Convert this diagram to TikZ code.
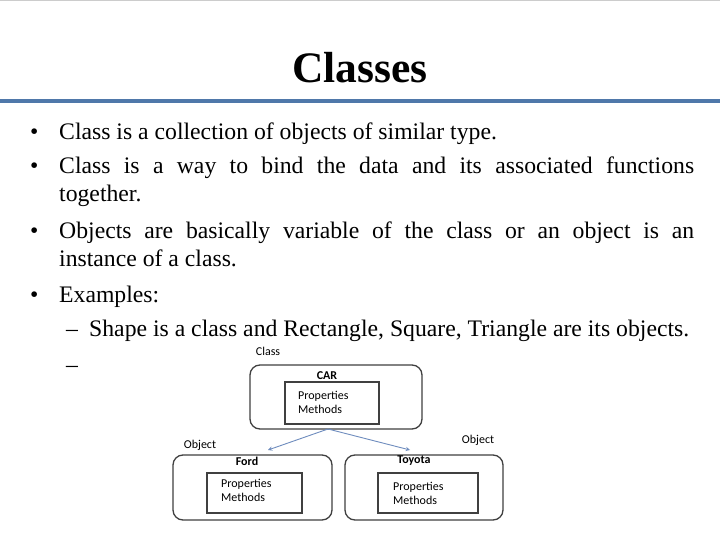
\documentclass[tikz,border=0pt]{standalone}
\usepackage{fontspec}
\setmainfont{Liberation Serif}
\newfontfamily\diag{Carlito}
\begin{document}
\begin{tikzpicture}[x=1pt,y=-1pt,
  body/.style={anchor=base west,inner sep=0,font=\fontsize{23.7}{28}\selectfont},
  outerbox/.style={draw=black!75,line width=1.3pt,rounded corners=10pt},
  innerbox/.style={draw=black!75,line width=1.3pt},
  dlab/.style={font=\diag\fontsize{12}{14}\selectfont,inner sep=0},
  conn/.style={draw={rgb,255:red,110;green,140;blue,190},line width=0.9pt,-stealth}]
\useasboundingbox (0,0) rectangle (720,540);
\fill[white] (0,0) rectangle (720,540);
\draw[black!20,line width=1pt] (0,1) -- (720,1);
\node[font=\bfseries\fontsize{43.5}{48}\selectfont,inner sep=0] (title) at (360,68) {Classes};
\draw[color={rgb,255:red,79;green,120;blue,170},line width=3.5pt] (0,101) -- (720,101);
% bullets
\node[body] (b1) at (30,140) {•};
\node[body] (t1) at (59,140) {Class is a collection of objects of similar type.};
\node[body] (b2) at (30,174) {•};
\node[body] (t2) at (59,174) {\makebox[635pt][s]{Class is a way to bind the data and its associated functions}};
\node[body] (t2b) at (59,202) {together.};
\node[body] (b3) at (30,238) {•};
\node[body] (t3) at (59,238) {\makebox[635pt][s]{Objects are basically variable of the class or an object is an}};
\node[body] (t3b) at (59,266) {instance of a class.};
\node[body] (b4) at (30,302) {•};
\node[body] (t4) at (59,302) {Examples:};
\node[body] (d1) at (66,336) {--};
\node[body] (t5) at (89,336) {Shape is a class and Rectangle, Square, Triangle are its objects.};
\node[body] (d2) at (66,372) {--};
% diagram
\draw[outerbox] (250,365) rectangle (422,429);
\node[innerbox,minimum width=94pt,minimum height=42pt,inner sep=0] (carin) at (332,403) {};
\node[dlab,font=\diag\bfseries\fontsize{12}{14}\selectfont] (car) at (327,376) {CAR};
\node[dlab,align=left,anchor=west] (carp) at (298,402) {Properties\\Methods};
\coordinate (carb) at (328,429);
\draw[outerbox] (173,455) rectangle (332,520);
\node[innerbox,minimum width=95pt,minimum height=40pt,inner sep=0] (fordin) at (254.5,493) {};
\node[dlab,font=\diag\bfseries\fontsize{12}{14}\selectfont] (ford) at (247,461) {Ford};
\node[dlab,align=left,anchor=west] (fordp) at (221,490) {Properties\\Methods};
\draw[outerbox] (345,455) rectangle (503,520);
\node[innerbox,minimum width=100pt,minimum height=40pt,inner sep=0] (toyin) at (428,493) {};
\node[dlab,font=\diag\bfseries\fontsize{12}{14}\selectfont] (toy) at (414,461) {Toyota};
\node[dlab,align=left,anchor=west] (toyp) at (393,493) {Properties\\Methods};
\coordinate (fordt) at (268,450);
\coordinate (toyt) at (410,450);
\draw[conn] (carb) -- (fordt);
\draw[conn] (carb) -- (toyt);
\node[dlab] (lclass) at (268,351) {Class};
\node[dlab] (lobj1) at (200,445) {Object};
\node[dlab] (lobj2) at (478,440) {Object};
\end{tikzpicture}
\end{document}
